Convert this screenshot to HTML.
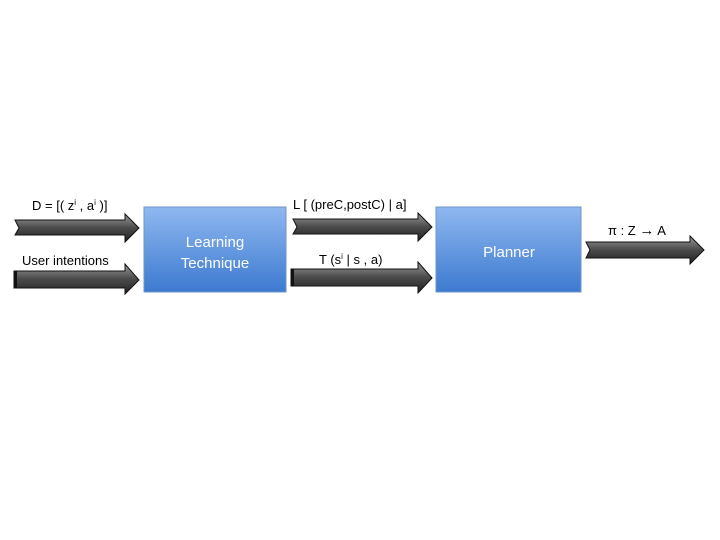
<!DOCTYPE html>
<html><head><style>
body{margin:0;width:720px;height:540px;background:#fff;overflow:hidden}
svg{display:block}
text{font-family:"Liberation Sans",sans-serif}
</style></head><body>
<svg width="720" height="540" xmlns="http://www.w3.org/2000/svg">
<defs>
<linearGradient id="b" x1="0" y1="0" x2="0" y2="1"><stop offset="0" stop-color="#8fb8f0"/><stop offset="1" stop-color="#3d7ad0"/></linearGradient>
<linearGradient id="g" x1="0" y1="0" x2="0" y2="1"><stop offset="0" stop-color="#9a9a9a"/><stop offset="0.5" stop-color="#4a4a4a"/><stop offset="1" stop-color="#222"/></linearGradient>
</defs>
<g stroke="#111" stroke-width="1" fill="url(#g)">
<polygon points="15,220 125,220 125,214 139,228 125,242 125,235 15,235 19,228"/>
<polygon points="14,271 125,271 125,264 139,280 125,294 125,288 14,288"/>
<polygon points="293,219 418,219 418,213 432,227 418,241 418,234 293,234 297,227"/>
<polygon points="291,269 418,269 418,262 432,278 418,293 418,286 291,286"/>
<polygon points="586,242 690,242 690,236 704,250 690,264 690,258 586,258 590,250"/>
</g>
<rect x="14" y="271" width="3" height="17" fill="#111"/>
<rect x="291" y="269" width="3" height="17" fill="#111"/>
<rect x="144" y="207" width="142" height="85" fill="url(#b)" stroke="#6e95c8"/>
<rect x="436" y="207" width="145" height="85" fill="url(#b)" stroke="#6e95c8"/>
<g fill="#fff" font-size="15" text-anchor="middle">
<text x="215" y="247">Learning</text><text x="215" y="268">Technique</text>
<text x="509" y="257">Planner</text>
</g>
<g fill="#000" font-size="13">
<text x="32" y="210">D = [( z<tspan font-size="8" dy="-5">i</tspan><tspan dy="5"> , a</tspan><tspan font-size="8" dy="-5">i</tspan><tspan dy="5"> )]</tspan></text>
<text x="22" y="265">User intentions</text>
<text x="293" y="209">L [ (preC,postC) | a]</text>
<text x="319" y="264">T (s<tspan font-size="8" dy="-5">i</tspan><tspan dy="5"> | s , a)</tspan></text>
<text x="608" y="235">π : Z <tspan font-weight="bold" font-size="15">→</tspan> A</text>
</g>
</svg>
</body></html>
